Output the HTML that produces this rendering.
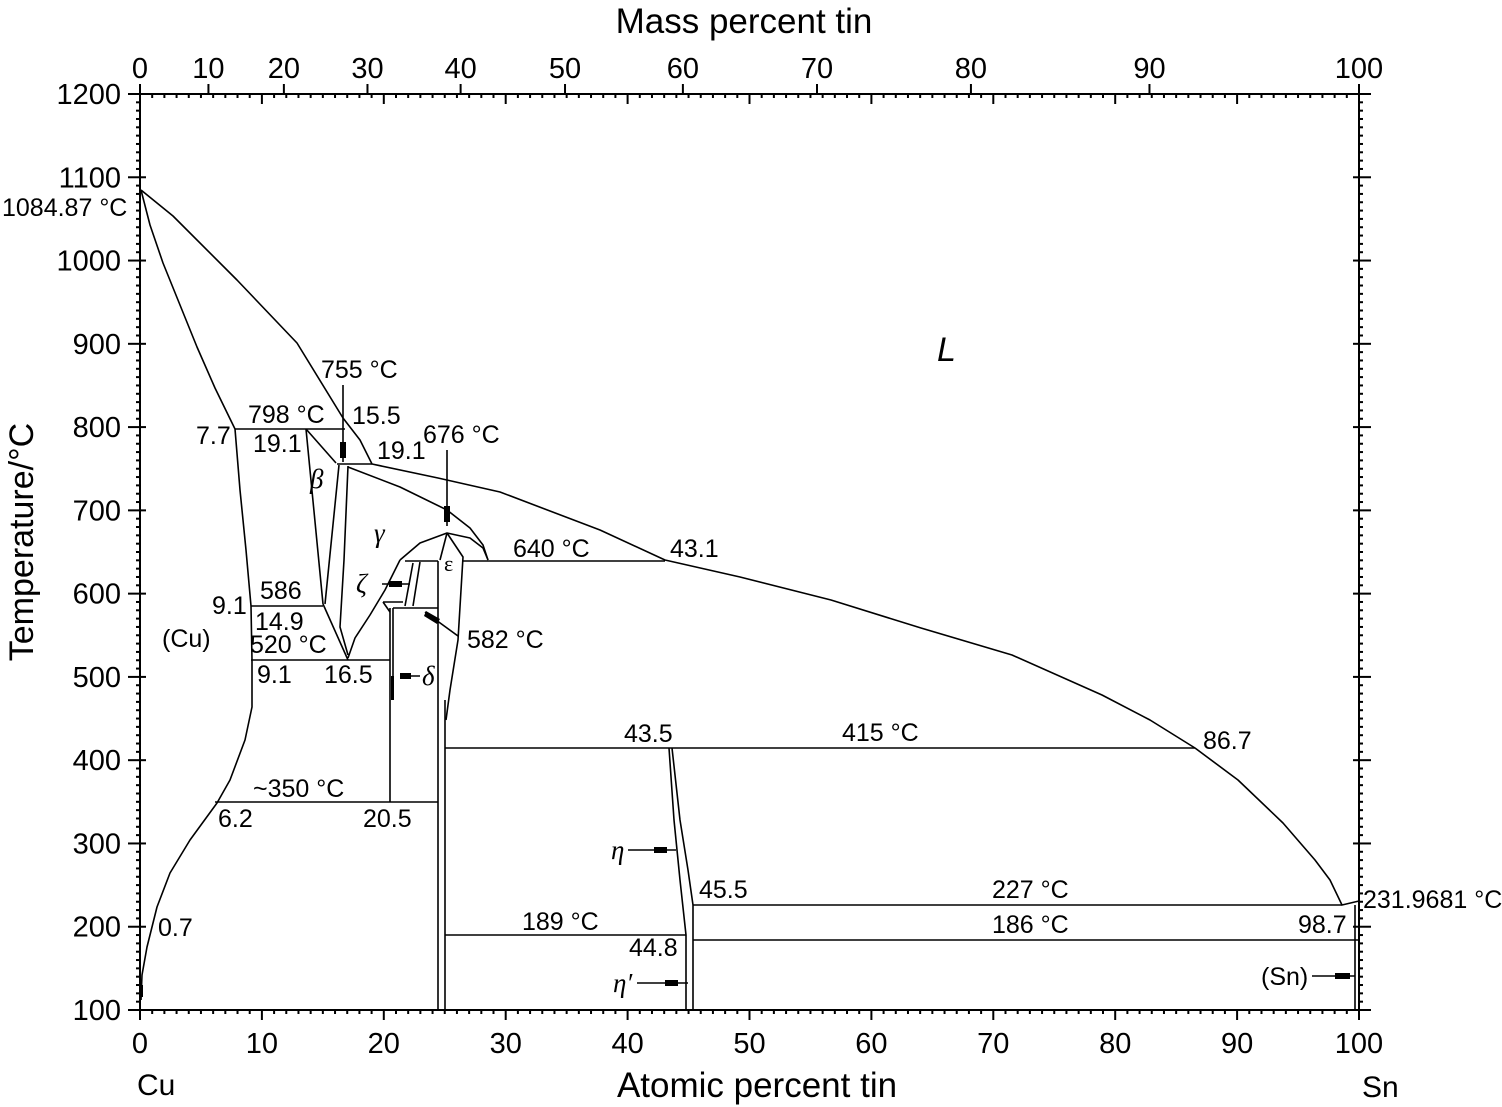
<!DOCTYPE html>
<html><head><meta charset="utf-8"><style>
html,body{margin:0;padding:0;background:#fff;}
svg{display:block;}
text{font-family:"Liberation Sans",sans-serif;fill:#000;}
.g{font-family:"Liberation Serif",serif;font-style:italic;}
</style></head><body>
<svg id="s" width="1502" height="1107" viewBox="0 0 1502 1107" xmlns="http://www.w3.org/2000/svg">
<rect x="0" y="0" width="1502" height="1107" fill="#fff"/>
<g id="ax" stroke="#000" stroke-width="2" fill="none">
<rect x="140" y="94" width="1219" height="916"/>
</g>
<g stroke="#000" stroke-width="1.6" fill="none" stroke-linejoin="round">
<polyline points="141,190 173,216 237,280 297,343 343,418 360,440 372,464 438,478 500,492 600,530 665,560 740,577 831,600 921,628 1012,655 1102,695 1150,720 1195,748 1238,780 1283,823 1315,860 1330,880 1342,905 1359,901"/>
<polyline points="141,190 150,225 163,263 180,305 197,347 215,388 235,429"/>
<polyline points="235,429 240,490 246,550 251,606 252,660 252,707 245,740 230,780 217,803 190,840 170,873 157,907 147,947 142,975 141,1000"/>
<line x1="235" y1="429" x2="345" y2="429"/>
<line x1="337" y1="464" x2="372" y2="464"/>
<line x1="251" y1="606" x2="323" y2="606"/>
<line x1="251" y1="660" x2="390" y2="660"/>
<line x1="215" y1="802" x2="438" y2="802"/>
<line x1="405" y1="561" x2="438" y2="561"/>
<line x1="463" y1="561" x2="665" y2="561"/>
<line x1="393" y1="608" x2="438" y2="608"/>
<line x1="383" y1="602" x2="403" y2="602"/>
<line x1="445" y1="748" x2="1195" y2="748"/>
<line x1="445" y1="935" x2="686" y2="935"/>
<line x1="693" y1="905" x2="1342" y2="905"/>
<line x1="693" y1="940" x2="1359" y2="940"/>
<line x1="306" y1="429" x2="336" y2="463"/>
<line x1="306" y1="429" x2="323" y2="604"/>
<line x1="339" y1="465" x2="325" y2="604"/>
<polyline points="348,466 344,560 340,627 348,655"/>
<line x1="323" y1="604" x2="348" y2="660"/>
<polyline points="348,467 400,487 447,510 470,528 483,545 488,560"/>
<polyline points="400,560 420,543 447,533 470,538 483,548 488,560"/>
<polyline points="400,560 385,590 370,615 355,638 348,658"/>
<line x1="447" y1="533" x2="440" y2="560"/>
<polyline points="447,533 463,557 458,640 450,690 446,720"/>
<line x1="438" y1="561" x2="438" y2="1010"/>
<line x1="445" y1="700" x2="445" y2="1010"/>
<line x1="420" y1="562" x2="413" y2="606"/>
<line x1="413" y1="563" x2="405" y2="606"/>
<line x1="383" y1="602" x2="390" y2="612"/>
<line x1="390" y1="608" x2="390" y2="802"/>
<line x1="393" y1="608" x2="393" y2="676"/>
<polyline points="669,748 674,820 680,880 686,935 686,1010"/>
<polyline points="672,748 680,820 688,870 693,905 693,1010"/>
<line x1="1355" y1="905" x2="1355" y2="1010"/>
<line x1="343" y1="385" x2="343" y2="462"/>
<line x1="447" y1="450" x2="447" y2="526"/>
<line x1="382" y1="584" x2="410" y2="584"/>
<line x1="400" y1="676" x2="420" y2="676"/>
<line x1="458" y1="636" x2="425" y2="612"/>
<line x1="628" y1="850" x2="676" y2="850"/>
<line x1="637" y1="983" x2="688" y2="983"/>
<line x1="1312" y1="976" x2="1355" y2="976"/>
</g>
<g fill="#000">
<rect x="340" y="442" width="6" height="16"/>
<rect x="444" y="506" width="6" height="16"/>
<rect x="389" y="581" width="13" height="6"/>
<rect x="400" y="673" width="11" height="6"/>
<rect x="391" y="676" width="3" height="24"/>
<polygon points="426,611 440,619 437,624 424,616"/>
<rect x="654" y="847" width="13" height="6"/>
<rect x="665" y="980" width="13" height="6"/>
<rect x="1335" y="973" width="15" height="6"/>
<rect x="139" y="985" width="4" height="12"/>
</g>
<g font-size="25">
<text x="2" y="216">1084.87 °C</text>
<text x="321" y="378">755 °C</text>
<text x="248" y="423">798 °C</text>
<text x="352" y="424">15.5</text>
<text x="196" y="444">7.7</text>
<text x="253" y="452">19.1</text>
<text x="377" y="459">19.1</text>
<text x="423" y="443">676 °C</text>
<text x="513" y="557">640 °C</text>
<text x="670" y="557">43.1</text>
<text x="260" y="599">586</text>
<text x="212" y="614">9.1</text>
<text x="255" y="630">14.9</text>
<text x="250" y="653">520 °C</text>
<text x="257" y="683">9.1</text>
<text x="324" y="683">16.5</text>
<text x="467" y="648">582 °C</text>
<text x="162" y="647">(Cu)</text>
<text x="253" y="797">~350 °C</text>
<text x="218" y="827">6.2</text>
<text x="363" y="827">20.5</text>
<text x="624" y="742">43.5</text>
<text x="842" y="741">415 °C</text>
<text x="1203" y="749">86.7</text>
<text x="699" y="898">45.5</text>
<text x="992" y="898">227 °C</text>
<text x="1363" y="908">231.9681 °C</text>
<text x="522" y="930">189 °C</text>
<text x="992" y="933">186 °C</text>
<text x="1298" y="933">98.7</text>
<text x="629" y="956">44.8</text>
<text x="158" y="936">0.7</text>
<text x="1261" y="985">(Sn)</text>
</g>
<g font-size="27">
<text x="310" y="488" class="g">β</text>
<text x="374" y="542" class="g">γ</text>
<text x="444" y="571" font-size="22" style="font-family:'Liberation Serif',serif">ε</text>
<text x="356" y="593" class="g">ζ</text>
<text x="422" y="685" class="g">δ</text>
<text x="611" y="859" class="g">η</text>
<text x="613" y="992" class="g">η′</text>
</g>
<text x="937" y="361" font-size="34" font-style="italic">L</text>
<g id="labels" font-size="29"></g>
<text x="744" y="33" font-size="35" text-anchor="middle">Mass percent tin</text>
<text x="757" y="1097" font-size="35" text-anchor="middle">Atomic percent tin</text>
<text x="137" y="1095" font-size="30">Cu</text>
<text x="1362" y="1097" font-size="30">Sn</text>
<text transform="translate(33,542) rotate(-90)" font-size="34" text-anchor="middle">Temperature/°C</text>
</svg>
<script>
(function(){
var ns="http://www.w3.org/2000/svg",ax=document.getElementById('ax'),lb=document.getElementById('labels');
function L(x1,y1,x2,y2){var e=document.createElementNS(ns,'line');e.setAttribute('x1',x1);e.setAttribute('y1',y1);e.setAttribute('x2',x2);e.setAttribute('y2',y2);ax.appendChild(e);}
function T(x,y,s,a){var e=document.createElementNS(ns,'text');e.setAttribute('x',x);e.setAttribute('y',y);e.setAttribute('text-anchor',a);e.textContent=s;lb.appendChild(e);}
var X0=140,X1=1359,Y0=1010,Y1=94;
function xa(a){return X0+(X1-X0)*a/100;}
function yt(t){return Y0-(Y0-Y1)*(t-100)/1100;}
for(var a=0;a<=100;a++){var x=xa(a),len=(a%10==0)?10:4;
 L(x,Y0,x,Y0+len);L(x,Y1,x,Y1+len);
 if(a%10==0){T(x,1053,String(a),'middle');}}
for(var t=100;t<=1200;t+=10){var y=yt(t),len=(t%100==0)?12:4;
 L(X0,y,X0-len,y);L(X1,y,X1+len,y);
 if(t%100==0){L(X0,y,X0+6,y);L(X1,y,X1-6,y);T(121,y+10,String(t),'end');}}
for(var w=0;w<=100;w+=10){var a;if(w==100)a=100;else{var s=w/118.71,c=(100-w)/63.546;a=100*s/(s+c);}
 var x=xa(a);L(x,Y1,x,Y1-10);T(x,78,String(w),'middle');}
})();
</script>
</body></html>
